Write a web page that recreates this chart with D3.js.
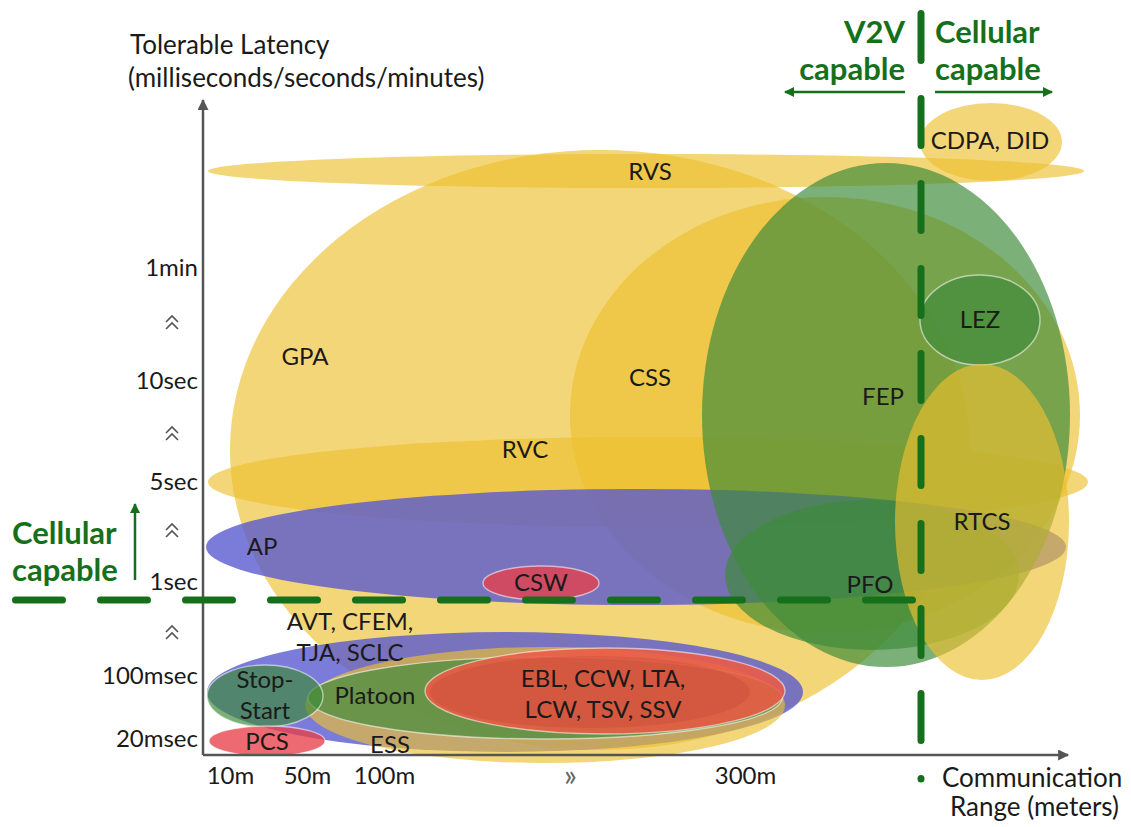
<!DOCTYPE html>
<html><head><meta charset="utf-8">
<script src="https://cdn.jsdelivr.net/npm/d3@7"></script>
<style>
body{margin:0;background:#fff}
svg{display:block}
text{font-family:Lato,"Open Sans",sans-serif}
</style>
</head><body>
<svg id="c" width="1131" height="827"></svg>
<script>
// ---------- DATA (axis units: range 0..86.5, latency level 0..65.5) ----------
const services   = ["GPA","RVS","CSS","CDPA, DID","RVC","AP","FEP","PFO","LEZ","RTCS","CSW",
                    "AVT, CFEM,\nTJA, SCLC","ESS","Platoon","EBL, CCW, LTA,\nLCW, TSV, SSV","EBL (inner)","Stop-\nStart","PCS"];
const groups     = ["yellow","yellow","yellow","yellow","yellow","purple","green","green","green","yellow","red",
                    "purple","yellow","green","red","red","green","red"];
const rangeMin   = [2.7, 0.5, 36.7, 71.7, 0.5, 0.3, 49.9, 52.2, 71.7, 69.2, 28.0, 0.4, 10.2, 10.5, 22.2, 22.7, 0.4, 0.6];
const rangeMax   = [76.7,88.1, 87.7, 85.9, 88.5,86.3, 86.7, 81.6, 83.7, 86.6, 39.6, 60.0, 58.2, 57.9, 58.2, 54.7, 12.0, 12.2];
const latMin     = [0.5, 56.7, 12.2, 57.4, 22.8,15.0, 8.8, 10.5, 39.0, 7.5, 15.5, 0.3, -0.8, 1.6, 2.1, 2.7, 2.8, -0.1];
const latMax     = [60.5,60.1, 55.8, 65.2, 31.8,26.6, 59.2, 25.5, 48.0, 39.1, 18.9, 12.3, 10.8, 9.8, 10.7, 9.9, 9.0, 2.9];
const labelX     = [10.2,44.7, 44.7, 78.7, 32.2, 5.9, 68.0, 66.7, 77.7, 77.9, 33.8, 14.7, 18.7, 17.2, 40.0, null, 6.2, 6.4];
const labelY     = [39.8,58.3, 37.7, 61.4, 30.5,20.8, 35.8, 17.0, 43.5, 23.3, 17.2, 11.8, 1.0, 5.9, 6.1, null, 6.0, 1.3];

const yTickLabels = ["20msec","100msec","1sec","5sec","10sec","1min"];
const yTickLevels = [1.6, 7.9, 17.3, 27.3, 37.4, 48.7];
const yBreakLevels = [12.3, 22.5, 32.2, 43.3];
const xTickLabels = ["10m","50m","100m","»","300m"];
const xTickLevels = [2.7, 10.4, 18.1, 36.7, 54.2];

const cellularLatencyThreshold = 15.5;  // latency level of horizontal divider
const v2vRangeLimit = 71.8;             // range position of vertical divider

// ---------- STYLES ----------
const fillOf = {yellow:"#ECC02F", purple:"#5A5AD0", green:"#3E8A3A", red:"#E8404A"};
const opOf   = {yellow:0.65, purple:0.8, green:0.68, red:0.78};
const fillOverride = {"EBL, CCW, LTA,\nLCW, TSV, SSV":"#EC5A46", "EBL (inner)":"#B83A2C"};
const opOverride   = {"EBL, CCW, LTA,\nLCW, TSV, SSV":0.88, "EBL (inner)":0.22};
const outlined = new Set(["CSW","LEZ","Stop-\nStart","EBL, CCW, LTA,\nLCW, TSV, SSV","PCS","Platoon"]);
const DGREEN = "#16701b";
const TXT = "#1a1a1a";
const FS = 24;

const svg = d3.select("#c");
const x = d3.scaleLinear().domain([0, 86.5]).range([203, 1068]);
const y = d3.scaleLinear().domain([0, 65.5]).range([755, 100]);

const defs = svg.append("defs");
function marker(id, color, w, h){
  defs.append("marker").attr("id", id).attr("viewBox","0 0 10 10").attr("refX",9).attr("refY",5)
    .attr("markerWidth", w).attr("markerHeight", h).attr("markerUnits","userSpaceOnUse").attr("orient","auto")
    .append("path").attr("d","M0,0L10,5L0,10z").attr("fill", color);
}
marker("ag","#555",14,11);
marker("gg",DGREEN,13,10);

// ---------- ELLIPSES ----------
const idx = d3.range(services.length);
svg.append("g").selectAll("ellipse").data(idx).join("ellipse")
  .attr("cx", i => x((rangeMin[i]+rangeMax[i])/2))
  .attr("cy", i => y((latMin[i]+latMax[i])/2))
  .attr("rx", i => (x(rangeMax[i]) - x(rangeMin[i]))/2)
  .attr("ry", i => (y(latMin[i]) - y(latMax[i]))/2)
  .attr("fill", i => fillOverride[services[i]] || fillOf[groups[i]])
  .attr("fill-opacity", i => opOverride[services[i]] ?? opOf[groups[i]])
  .attr("stroke", i => outlined.has(services[i]) ? "rgba(255,255,255,0.55)" : "none")
  .attr("stroke-width", 1.4);

// ---------- AXES ----------
svg.append("line").attr("x1", x(0)).attr("y1", y(0)).attr("x2", x(0)).attr("y2", y(65.5))
  .attr("stroke","#555").attr("stroke-width",2.5).attr("marker-end","url(#ag)");
svg.append("line").attr("x1", x(0)).attr("y1", y(0)).attr("x2", x(86.5)).attr("y2", y(0))
  .attr("stroke","#555").attr("stroke-width",2.5).attr("marker-end","url(#ag)");

const gy = svg.append("g").attr("transform",`translate(${x(0)},0)`)
  .call(d3.axisLeft(y).tickValues(yTickLevels).tickFormat((d,i)=>yTickLabels[i]).tickSize(0).tickPadding(5));
gy.select(".domain").remove();
gy.selectAll("text").attr("font-size",FS).attr("fill",TXT).attr("font-family","Lato, 'Open Sans', sans-serif");

// axis-break marks (double chevrons)
const chevron = "M-6,0L0,-6L6,0M-6,7L0,1L6,7";
svg.append("g").selectAll("path").data(yBreakLevels).join("path")
  .attr("transform", d => `translate(172,${y(d)})`)
  .attr("d", chevron).attr("fill","none").attr("stroke","#555").attr("stroke-width",1.6);

const gx = svg.append("g").attr("transform",`translate(0,${y(0)})`)
  .call(d3.axisBottom(x).tickValues(xTickLevels).tickFormat((d,i)=>xTickLabels[i]).tickSize(0).tickPadding(12));
gx.select(".domain").remove();
gx.selectAll("text").attr("font-size",FS)
  .attr("fill",(d,i)=> xTickLabels[i]==="»" ? "#666" : TXT)
  .attr("font-family","Lato, 'Open Sans', sans-serif");
gx.selectAll("text").filter((d,i)=> xTickLabels[i]==="»").attr("font-size",30).attr("dy","0.62em");

// ---------- SERVICE LABELS ----------
const lab = svg.append("g").selectAll("text").data(idx.filter(i => labelX[i] !== null)).join("text")
  .attr("x", i => x(labelX[i])).attr("y", i => y(labelY[i]))
  .attr("text-anchor","middle").attr("font-size",FS).attr("fill",TXT);
lab.each(function(i){
  const lines = services[i].split("\n");
  const t = d3.select(this);
  lines.forEach((ln,k) => {
    t.append("tspan").attr("x", x(labelX[i]))
     .attr("dy", k===0 ? `${0.35 - (lines.length-1)*0.65}em` : "1.3em").text(ln);
  });
});

// ---------- DIVIDERS ----------
const hy = y(cellularLatencyThreshold);
svg.append("line").attr("x1",15.5).attr("y1",hy).attr("x2",913).attr("y2",hy)
  .attr("stroke",DGREEN).attr("stroke-width",7).attr("stroke-linecap","round").attr("stroke-dasharray","47 38");
const vx = x(v2vRangeLimit);
svg.append("line").attr("x1",vx).attr("y1",13.5).attr("x2",vx).attr("y2",779)
  .attr("stroke",DGREEN).attr("stroke-width",7).attr("stroke-linecap","round").attr("stroke-dasharray","47 38");

// arrows
svg.append("line").attr("x1",vx-16).attr("y1",92).attr("x2",785).attr("y2",92)
  .attr("stroke",DGREEN).attr("stroke-width",2.5).attr("marker-end","url(#gg)");
svg.append("line").attr("x1",vx+14).attr("y1",92).attr("x2",1052).attr("y2",92)
  .attr("stroke",DGREEN).attr("stroke-width",2.5).attr("marker-end","url(#gg)");
svg.append("line").attr("x1",135).attr("y1",580).attr("x2",135).attr("y2",504)
  .attr("stroke",DGREEN).attr("stroke-width",2.5).attr("marker-end","url(#gg)");

// green titles (each line its own text element)
function gtext(tx, ty, anchor, lines){
  lines.forEach((l,k)=> svg.append("text").attr("x",tx).attr("y",ty + k*37).attr("text-anchor",anchor)
    .attr("font-size",31).attr("font-weight","bold").attr("fill",DGREEN).text(l));
}
gtext(vx-16, 43, "end", ["V2V","capable"]);
gtext(vx+14, 43, "start", ["Cellular","capable"]);
gtext(12, 544, "start", ["Cellular","capable"]);

// axis titles
const at = svg.append("text").attr("x",130).attr("y",54).attr("font-size",26).attr("fill",TXT);
at.append("tspan").attr("x",130).text("Tolerable Latency");
at.append("tspan").attr("x",128).attr("dy",33).text("(milliseconds/seconds/minutes)");
const xt = svg.append("text").attr("x",942).attr("y",787).attr("font-size",26).attr("fill",TXT);
xt.append("tspan").attr("x",942).text("Communication");
xt.append("tspan").attr("x",950).attr("dy",29).text("Range (meters)");
</script>
</body></html>
